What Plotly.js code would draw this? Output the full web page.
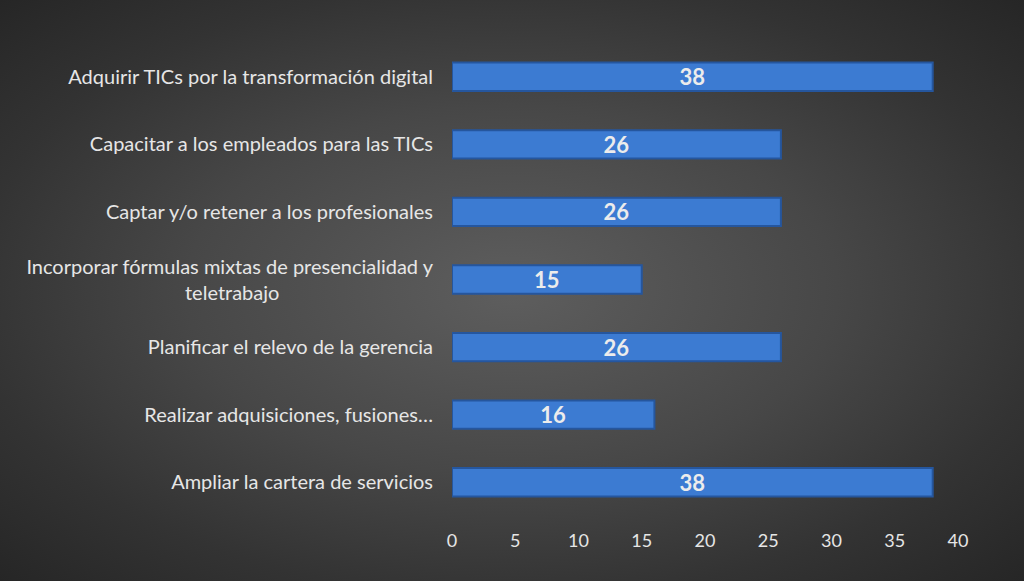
<!DOCTYPE html>
<html>
<head>
<meta charset="utf-8">
<script src="https://cdn.plot.ly/plotly-3.0.1.min.js"></script>
<style>
html,body{margin:0;padding:0;width:1024px;height:581px;overflow:hidden;
background:radial-gradient(ellipse at 50% 50%, #5e5e5e 0%, #474747 45%, #333333 75%, #262626 100%);}
#chart{width:1024px;height:581px;}
</style>
</head>
<body>
<div id="chart"></div>
<script>
const categories = [
  "Adquirir TICs por la transformación digital",
  "Capacitar a los empleados para las TICs",
  "Captar y/o retener a los profesionales",
  "Incorporar fórmulas mixtas de presencialidad y<br>teletrabajo",
  "Planificar el relevo de la gerencia",
  "Realizar adquisiciones, fusiones…",
  "Ampliar la cartera de servicios"
];
const values = [38, 26, 26, 15, 26, 16, 38];
const xTicks = [0, 5, 10, 15, 20, 25, 30, 35, 40];

// centre second line of multi-line labels under the first one
const NB = '\u00a0';
const tickText = categories.map(c => {
  const parts = c.split('<br>');
  if (parts.length < 2) return c;
  return parts[0] + '<br>' + parts[1] + NB.repeat(30);
});

const FONT = 'Lato, "Open Sans", sans-serif';

const trace = {
  type: 'bar',
  orientation: 'h',
  y: categories,
  x: values,
  text: values.map(String),
  textposition: 'inside',
  insidetextanchor: 'middle',
  textangle: 0,
  constraintext: 'none',
  textfont: {family: FONT, size: 22, color: '#ececec', weight: 'bold'},
  marker: {color: '#3c7bd2', line: {color: '#25569e', width: 2}},
  width: 0.42,
  hoverinfo: 'none'
};

const layout = {
  width: 1024, height: 581,
  paper_bgcolor: 'rgba(0,0,0,0)',
  plot_bgcolor: 'rgba(0,0,0,0)',
  margin: {l: 452, r: 66, t: 43, b: 65},
  showlegend: false,
  xaxis: {
    range: [0, 40],
    tickvals: xTicks,
    showgrid: false, zeroline: false, showline: false,
    tickfont: {family: FONT, size: 18, color: '#e6e6e6'},
    ticks: '', ticklabelstandoff: 12
  },
  yaxis: {
    autorange: 'reversed',
    tickmode: 'array',
    tickvals: categories,
    ticktext: tickText,
    showgrid: false, zeroline: false, showline: false,
    ticks: '', ticklabelstandoff: 18,
    tickfont: {family: FONT, size: 20, color: '#e6e6e6'}
  }
};

Plotly.newPlot('chart', [trace], layout, {displayModeBar: false, staticPlot: true});
</script>
</body>
</html>
